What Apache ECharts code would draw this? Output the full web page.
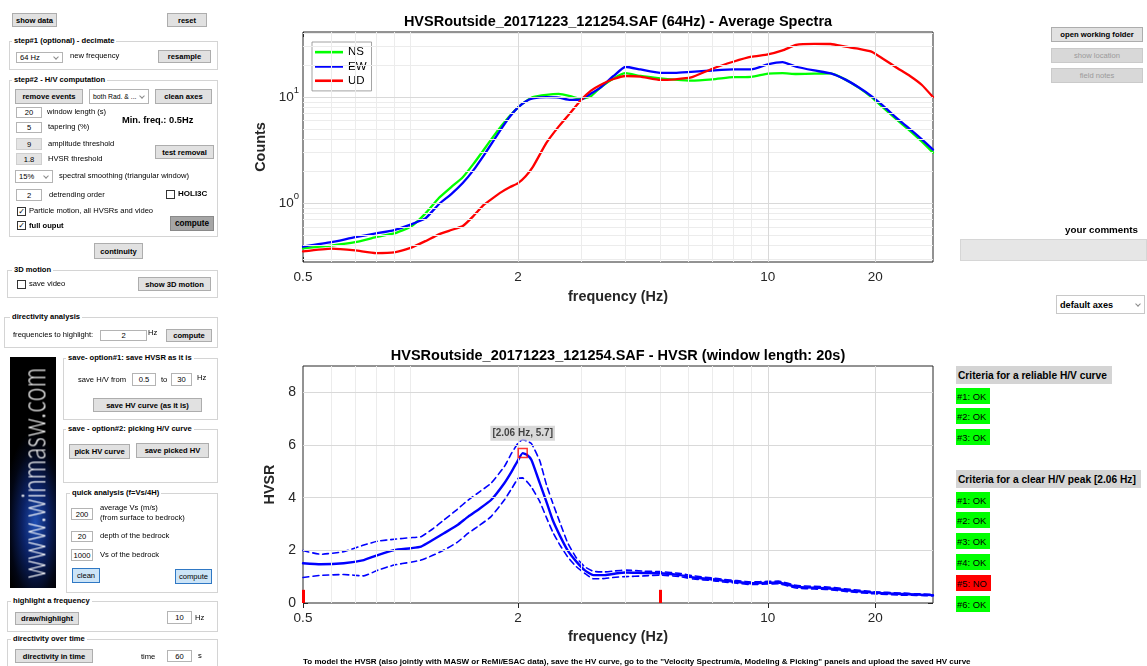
<!DOCTYPE html>
<html><head><meta charset="utf-8">
<script src="https://cdn.jsdelivr.net/npm/echarts@6/dist/echarts.min.js"></script>
<style>
html,body{margin:0;padding:0;width:1147px;height:666px;overflow:hidden;background:#fff;font-family:'Liberation Sans',Arial,sans-serif;}
#chart{position:absolute;left:0;top:0;width:1147px;height:666px;}
#ui{position:absolute;left:0;top:0;width:1147px;height:666px;pointer-events:none;}
#ui div,#ui span{position:absolute;box-sizing:border-box;white-space:nowrap;}
.t{font-size:7.6px;line-height:10px;color:#000;}
.b{background:#e1e1e1;border:1px solid #adadad;font-weight:bold;font-size:7.6px;display:flex;align-items:center;justify-content:center;color:#000;}
.p{border:1px solid #d4d4d4;}
.pt{background:#fff;font-weight:bold;font-size:7.6px;line-height:10px;padding:0 2px;}
.in{background:#fff;border:1px solid #b4b4b4;font-size:7.6px;display:flex;align-items:center;justify-content:center;}
.sel{background:#fff;border:1px solid #b4b4b4;font-size:7.6px;display:flex;align-items:center;padding-left:3px;}
.chev{right:4px;top:50%;width:4px;height:4px;border-right:1px solid #8a8a8a;border-bottom:1px solid #8a8a8a;transform:translateY(-75%) rotate(45deg);}
.cb{width:9px;height:9px;border:1px solid #333;background:#fff;font-size:8px;line-height:8px;text-align:center;font-family:'DejaVu Sans',sans-serif;}
.hd{background:#d4d4d4;font-weight:bold;font-size:10.2px;display:flex;align-items:center;padding-left:2px;}
.ok{background:#00ff00;font-size:9.4px;display:flex;align-items:center;padding-left:1px;}
.no{background:#ff0000;font-size:9.4px;display:flex;align-items:center;padding-left:1px;}
.logo{overflow:hidden;background:radial-gradient(ellipse 70% 40% at 55% 72%, #1f4fb4 0%, #0b2266 40%, #020614 80%, #000 100%);}
.logo span{left:50%;top:50%;color:#fff;font-family:Lato,'Open Sans',sans-serif;font-weight:300;font-size:24px;letter-spacing:0.4px;transform:translate(-50%,-50%) rotate(-90deg) scaleY(1.35);}
</style></head>
<body>
<div id="chart"></div>
<div id="ui"></div>
<script>
// ---------- data: average spectra ----------
const fS = [0.5,0.6,0.7,0.8,0.9,1.0,1.1,1.2,1.3,1.4,1.5,1.6,1.7,1.8,1.9,2.0,2.1,2.2,2.4,2.6,2.8,3.0,3.2,3.4,3.7,4.0,4.4,5.0,5.5,6.1,7.0,8.0,9.0,10.0,11.0,12.0,13.5,15.0,16.5,18.0,19.5,21,23,25,27,29];
const ns = [0.376,0.40,0.43,0.48,0.52,0.60,0.80,1.12,1.42,1.76,2.35,3.16,4.2,5.4,6.7,8.0,9.1,10.0,10.5,10.7,10.2,9.6,10.2,12.3,15.0,16.8,15.8,15.0,14.6,14.3,14.7,15.4,15.5,16.6,16.8,16.5,16.6,16.7,14.6,12.2,10.0,8.0,6.1,4.8,3.8,3.0];
const ew = [0.39,0.43,0.48,0.52,0.56,0.63,0.72,0.98,1.22,1.55,2.05,2.8,3.8,5.1,6.6,8.0,9.1,9.7,10.0,9.9,9.4,9.5,10.8,12.3,15.8,19.3,18.2,16.9,16.9,17.3,17.8,18.2,18.2,20.3,21.3,19.3,17.8,16.7,14.6,12.3,10.2,8.3,6.3,5.0,4.0,3.2];
const ud = [0.352,0.374,0.36,0.34,0.345,0.38,0.44,0.51,0.56,0.61,0.76,0.96,1.12,1.28,1.42,1.55,1.8,2.2,3.7,5.3,7.1,9.4,11.5,13.0,14.8,15.8,15.6,14.5,14.7,15.3,18.5,21.5,24.0,25.2,27.5,31.0,31.7,31.6,29.8,28.5,26.8,23.0,18.8,15.8,13.0,10.0];
// ---------- data: HVSR ----------
const fH = [0.5,0.56,0.65,0.74,0.81,0.9,1.0,1.07,1.15,1.24,1.35,1.45,1.56,1.68,1.83,1.92,2.0,2.06,2.12,2.18,2.3,2.4,2.5,2.62,2.75,2.9,3.07,3.25,3.5,3.75,4.0,4.5,5.0,5.7,6.2,7.0,7.5,8.2,9.0,10.0,10.7,12.0,13.5,14.7,17,19.8,23.6,26,29];
const hvMean  = [1.51,1.47,1.51,1.63,1.82,2.01,2.08,2.14,2.38,2.65,2.95,3.28,3.58,3.91,4.55,5.0,5.43,5.69,5.62,5.43,4.55,3.85,3.15,2.55,2.01,1.6,1.25,1.06,1.06,1.12,1.16,1.14,1.13,1.06,0.97,0.9,0.85,0.80,0.75,0.77,0.78,0.62,0.58,0.56,0.47,0.39,0.34,0.32,0.30];
const hvUpper = [1.99,1.85,1.95,2.2,2.35,2.42,2.48,2.52,2.8,3.15,3.55,3.91,4.22,4.55,5.18,5.7,6.07,6.2,6.15,6.05,5.4,4.5,3.8,3.05,2.3,1.75,1.38,1.2,1.18,1.22,1.25,1.21,1.19,1.12,1.03,0.95,0.9,0.85,0.8,0.82,0.83,0.67,0.63,0.61,0.52,0.43,0.38,0.35,0.33];
const hvLower = [0.97,1.05,1.08,1.03,1.25,1.44,1.55,1.63,1.8,2.01,2.3,2.65,2.95,3.28,3.91,4.35,4.73,4.75,4.6,4.4,3.85,3.25,2.7,2.2,1.76,1.4,1.13,0.92,0.93,0.98,1.0,1.03,1.06,1.0,0.91,0.85,0.8,0.75,0.7,0.72,0.73,0.57,0.53,0.51,0.42,0.35,0.30,0.29,0.27];
const peak = [2.06, 5.7];
const peakLabel = '[2.06 Hz, 5.7]';
const limitFreqs = [0.5, 5];
const limitHeight = 0.5;
// ---------- ticks ----------
const xMajor = [0.5, 2, 10, 20];
const xMinor = [0.6, 0.7, 0.8, 0.9, 1, 3, 4, 5, 6, 7, 8, 9];
const ySpecMajor = [1, 10];
const ySpecMinor = [0.3,0.4,0.5,0.6,0.7,0.8,0.9,2,3,4,5,6,7,8,9,20,30,40];
const yHvTicks = [0, 2, 4, 6, 8];
const X_MIN = 0.5, X_MAX = 29;
const YS_MIN = 0.28, YS_MAX = 41;
const YH_MIN = 0, YH_MAX = 9;

const AX = '#262626';
const F = "'Liberation Sans', Arial, sans-serif";
const MAJ = '#d9d9d9', MIN = '#ececec';
const pairs = (xs, ys) => xs.map((x, i) => [x, ys[i]]);

function xSet(g, gap) {
  const base = () => ({type:'log', logBase:10, min:X_MIN, max:X_MAX, gridIndex:g,
    axisLine:{show:false}, splitLine:{show:false}, axisPointer:{show:false}});
  const tk = (vals, len) => ({show:true, inside:true, length:len, customValues:vals, lineStyle:{color:AX, width:1}});
  return [
    Object.assign(base(), {position:'bottom', axisTick:tk(xMajor,5),
      axisLabel:{show:true, customValues:xMajor, formatter:v => String(+(+v).toPrecision(3)), fontSize:13.5, color:AX, margin:8, fontFamily:F},
      name:'frequency (Hz)', nameLocation:'middle', nameGap:gap,
      nameTextStyle:{fontSize:14.4, fontWeight:'bold', color:AX, fontFamily:F}}),
    Object.assign(base(), {position:'top', axisTick:tk(xMajor,5), axisLabel:{show:false}}),
    Object.assign(base(), {position:'bottom', axisTick:tk(xMinor,3), axisLabel:{show:false}}),
    Object.assign(base(), {position:'top', axisTick:tk(xMinor,3), axisLabel:{show:false}})
  ];
}
const tkY = (vals, len) => ({show:true, inside:true, length:len, customValues:vals, lineStyle:{color:AX, width:1}});
const ySpecBase = () => ({type:'log', logBase:10, min:YS_MIN, max:YS_MAX, gridIndex:0, axisLine:{show:false}, splitLine:{show:false}});
const yHvBase = () => ({type:'value', min:YH_MIN, max:YH_MAX, gridIndex:1, axisLine:{show:false}, splitLine:{show:false}});

const yAxes = [
  Object.assign(ySpecBase(), {position:'left', axisTick:tkY(ySpecMajor,5),
    axisLabel:{show:true, customValues:ySpecMajor, margin:4,
      formatter:v => '{b|10}{s|' + Math.round(Math.log10(v)) + '}',
      rich:{b:{fontSize:13.5, color:AX, fontFamily:F, lineHeight:24}, s:{fontSize:9.5, color:AX, fontFamily:F, verticalAlign:'top', lineHeight:10}}},
    name:'Counts', nameLocation:'middle', nameGap:30, nameTextStyle:{fontSize:14.4, fontWeight:'bold', color:AX, fontFamily:F}}),
  Object.assign(ySpecBase(), {position:'right', axisTick:tkY(ySpecMajor,5), axisLabel:{show:false}}),
  Object.assign(ySpecBase(), {position:'left', axisTick:tkY(ySpecMinor,3), axisLabel:{show:false}}),
  Object.assign(ySpecBase(), {position:'right', axisTick:tkY(ySpecMinor,3), axisLabel:{show:false}}),
  Object.assign(yHvBase(), {position:'left', axisTick:tkY(yHvTicks,5),
    axisLabel:{show:true, customValues:yHvTicks, fontSize:14, color:AX, margin:7, fontFamily:F},
    name:'HVSR', nameLocation:'middle', nameGap:16, nameTextStyle:{fontSize:14.4, fontWeight:'bold', color:AX, fontFamily:F}}),
  Object.assign(yHvBase(), {position:'right', axisTick:tkY(yHvTicks,5), axisLabel:{show:false}})
];

function gridLineData(xMaj, xMin, yMaj, yMin) {
  const d = [];
  xMin.forEach(v => d.push({xAxis:v, lineStyle:{color:MIN}}));
  yMin.forEach(v => d.push({yAxis:v, lineStyle:{color:MIN}}));
  xMaj.forEach(v => d.push({xAxis:v, lineStyle:{color:MAJ}}));
  yMaj.forEach(v => d.push({yAxis:v, lineStyle:{color:MAJ}}));
  return d;
}
const mlBase = {silent:true, symbol:['none','none'], label:{show:false}, animation:false, emphasis:{disabled:true}, precision:4};
const curve = (name, xs, ys, color, width, type, xi, yi) => ({
  name, type:'line', xAxisIndex:xi, yAxisIndex:yi, data:pairs(xs, ys), smooth:0.15,
  symbol:'none', showSymbol:false, z:3, lineStyle:{color, width, type:type || 'solid', join:'round', cap:'round'}, itemStyle:{color}});

const option = {
  animation:false,
  backgroundColor:'#fff',
  textStyle:{fontFamily:F},
  title:[
    {text:'HVSRoutside_20171223_121254.SAF (64Hz) - Average Spectra', left:618, top:14, textAlign:'center', padding:0,
     textStyle:{fontSize:14.5, fontWeight:'bold', color:'#000', fontFamily:F}},
    {text:'HVSRoutside_20171223_121254.SAF - HVSR (window length: 20s)', left:618, top:348, textAlign:'center', padding:0,
     textStyle:{fontSize:14.5, fontWeight:'bold', color:'#000', fontFamily:F}}
  ],
  legend:{data:[{name:'NS', icon:'rect'},{name:'EW', icon:'rect'},{name:'UD', icon:'rect'}],
    orient:'vertical', left:312, top:42, itemWidth:28, itemHeight:2.6, itemGap:0,
    padding:[3,5,3,3], borderColor:'#8c8c8c', borderWidth:0.8, backgroundColor:'#fff', selectedMode:false, z:5,
    textStyle:{fontSize:11.5, color:'#000', fontFamily:F, lineHeight:14.3}},
  grid:[
    {left:303, top:32, width:630, height:230, show:true, borderColor:AX, borderWidth:1, backgroundColor:'#fff'},
    {left:303, top:366, width:630, height:237, show:true, borderColor:AX, borderWidth:1, backgroundColor:'#fff'}
  ],
  xAxis:[...xSet(0, 28), ...xSet(1, 27)],
  yAxis:yAxes,
  series:[
    {type:'line', xAxisIndex:0, yAxisIndex:0, data:[], z:1, clip:false, silent:true,
     markLine:Object.assign({}, mlBase, {lineStyle:{width:1, type:'solid'}, data:gridLineData([2,10,20], xMinor, ySpecMajor, ySpecMinor)})},
    curve('NS', fS, ns, '#00ff00', 2.3, null, 0, 0),
    curve('EW', fS, ew, '#0000ff', 2.3, null, 0, 0),
    curve('UD', fS, ud, '#ff0000', 2.3, null, 0, 0),
    {type:'line', xAxisIndex:4, yAxisIndex:4, data:[], z:1, clip:false, silent:true,
     markLine:Object.assign({}, mlBase, {lineStyle:{width:1, type:'solid'}, data:gridLineData([2,10,20], xMinor, [2,4,6,8], [])})},
    {type:'line', xAxisIndex:4, yAxisIndex:4, data:[], z:4, clip:false, silent:true,
     markLine:Object.assign({}, mlBase, {lineStyle:{width:3, type:'solid', color:'#ff0000'},
       data:limitFreqs.map(f => [{coord:[f, 0]}, {coord:[f, limitHeight]}])})},
    curve('upper', fH, hvUpper, '#0000ff', 1.6, [6,4], 4, 4),
    curve('lower', fH, hvLower, '#0000ff', 1.6, [6,4], 4, 4),
    curve('mean', fH, hvMean, '#0000ff', 2.4, null, 4, 4),
    {type:'scatter', xAxisIndex:4, yAxisIndex:4, data:[peak], symbol:'rect', symbolSize:9, z:6, silent:true,
     itemStyle:{color:'rgba(0,0,0,0)', borderColor:'#ff0000', borderWidth:1.5},
     label:{show:true, position:'top', distance:7, formatter:peakLabel, backgroundColor:'#d0d0d0',
       padding:[3,2,2,2], fontSize:10, fontWeight:'bold', color:'#1a1a1a', fontFamily:F}}
  ]
};
const chart = echarts.init(document.getElementById('chart'), null, {renderer:'canvas'});
chart.setOption(option);

// ---------- GUI (real text) ----------
const ui = document.getElementById('ui');
function el(cls, x, y, w, h, text, style) {
  const d = document.createElement('div');
  d.className = cls;
  d.style.left = x + 'px'; d.style.top = y + 'px';
  if (w != null) d.style.width = w + 'px';
  if (h != null) d.style.height = h + 'px';
  if (text != null) d.textContent = text;
  if (style) d.style.cssText += ';' + style;
  ui.appendChild(d); return d;
}
const txt = (x, cy, s, st) => el('t', x, cy - 5, null, null, s, st);
const btn = (x, y, w, h, s, st) => el('b', x, y, w, h, s, st);
const panel = (x, y, w, h, title, tx) => { el('p', x, y, w, h); el('pt', tx, y - 5, null, null, title); };
const inp = (x, y, w, h, s, st) => el('in', x, y, w, h, s, st);
const sel = (x, y, w, h, s, st) => { const d = el('sel', x, y, w, h, s, st); const c = document.createElement('span'); c.className = 'chev'; d.appendChild(c); };
const chk = (x, y, on) => el('cb', x, y, 9, 9, on ? '\u2713' : '');
const GRAY = 'background:#e4e4e4;border-color:#cfcfcf';
const BLUE = 'background:#cce4f7;border-color:#2f78c4;font-weight:normal';
const DIS = 'background:#d8d8d8;border-color:#cacaca;color:#9a9a9a;font-weight:normal';

btn(12,13,45,14,'show data');
btn(167,13,40,14,'reset');
panel(9,41,209,29,'step#1 (optional) - decimate',12);
sel(16,52,47,11,'64 Hz');
txt(70,56,'new frequency');
btn(158,50,53,13,'resample');
panel(9,80,209,157,'step#2 - H/V computation',12);
btn(15,89,68,15,'remove events');
sel(89,89,60,15,'both Rad. & ...','font-size:6.8px');
btn(155,89,57,15,'clean axes');
inp(16,107,26,11,'20'); txt(47,112,'window length (s)');
inp(16,122,26,11,'5'); txt(48,127,'tapering (%)');
inp(16,138,26,12,'9',GRAY); txt(48,144,'amplitude threshold');
inp(16,153,26,12,'1.8',GRAY); txt(48,159,'HVSR threshold');
txt(122,120,'Min. freq.: 0.5Hz','font-weight:bold;font-size:9.3px');
btn(155,145,59,14,'test removal');
sel(15,170,38,13,'15%'); txt(59,176,'spectral smoothing (triangular window)');
inp(16,189,26,12,'2'); txt(49,195,'detrending order');
chk(166,190,false); txt(178,194,'HOLI3C','font-weight:bold;font-size:8px');
chk(17,207,true); txt(29,211,'Particle motion, all HVSRs and video');
chk(17,221,true); txt(29,226,'full ouput','font-weight:bold');
btn(170,216,44,15,'compute','background:#a6a6a6;border-color:#8a8a8a;font-size:8.2px');
btn(94,243,49,16,'continuity');
panel(7,270,211,28,'3D motion',12);
chk(17,280,false); txt(29,284,'save video');
btn(138,277,73,14,'show 3D motion');
panel(4,317,214,31,'directivity analysis',10);
txt(13,335,'frequencies to highlight:');
inp(100,330,47,11,'2'); txt(148,333,'Hz');
btn(166,329,46,13,'compute');
const logo = el('logo',10,357,46,231);
const ls = document.createElement('span'); ls.textContent = 'www.winmasw.com'; logo.appendChild(ls);
panel(63,358,155,62,'save- option#1: save HVSR as it is',66);
txt(78,380,'save H/V from'); inp(132,373,24,13,'0.5'); txt(161,380,'to'); inp(171,373,21,13,'30'); txt(197,378,'Hz');
btn(93,398,109,14,'save HV curve (as it is)');
panel(63,429,155,54,'save - option#2: picking H/V curve',66);
btn(69,444,61,15,'pick HV curve'); btn(136,443,73,15,'save picked HV');
panel(66,493,152,100,'quick analysis (f=Vs/4H)',70);
inp(71,508,22,12,'200'); txt(100,508,'average Vs (m/s)'); txt(100,518,'(from surface to bedrock)');
inp(71,531,22,11,'20'); txt(100,536,'depth of the bedrock');
inp(71,549,22,12,'1000'); txt(100,555,'Vs of the bedrock');
btn(72,568,28,15,'clean',BLUE); btn(175,569,37,15,'compute',BLUE);
panel(7,601,211,31,'highlight a frequency',11);
btn(15,612,64,13,'draw/highlight'); inp(167,611,25,13,'10'); txt(195,618,'Hz');
panel(7,639,211,40,'directivity over time',11);
btn(15,649,78,14,'directivity in time'); txt(141,657,'time'); inp(167,650,25,12,'60'); txt(198,656,'s');

btn(1051,27,92,15,'open working folder','font-size:7.7px');
btn(1051,48,92,15,'show location',DIS);
btn(1051,68,92,15,'field notes',DIS);
txt(1065,230,'your comments','font-weight:bold;font-size:9.8px');
inp(960,239,187,22,'','background:#e6e6e6;border-color:#d6d6d6');
sel(1056,295,89,19,'default axes','font-weight:bold;font-size:9.2px;border-color:#c8c8c8');

el('hd',956,366,156,18,'Criteria for a reliable H/V curve');
[388,408,429].forEach((y,i) => el('ok',956,y,34,16,'#' + (i+1) + ': OK'));
el('hd',956,470,185,18,'Criteria for a clear H/V peak [2.06 Hz]');
const peakCrit = ['OK','OK','OK','OK','NO','OK'];
[492,512,533,554,575,596].forEach((y,i) => el(peakCrit[i] === 'OK' ? 'ok' : 'no', 956, y, peakCrit[i] === 'OK' ? 34 : 35, 16, '#' + (i+1) + ': ' + peakCrit[i]));
txt(303,662,'To model the HVSR (also jointly with MASW or ReMi/ESAC data), save the HV curve, go to the "Velocity Spectrum/a, Modeling & Picking" panels and upload the saved HV curve','font-weight:bold;font-size:8px');
</script>
</body></html>
